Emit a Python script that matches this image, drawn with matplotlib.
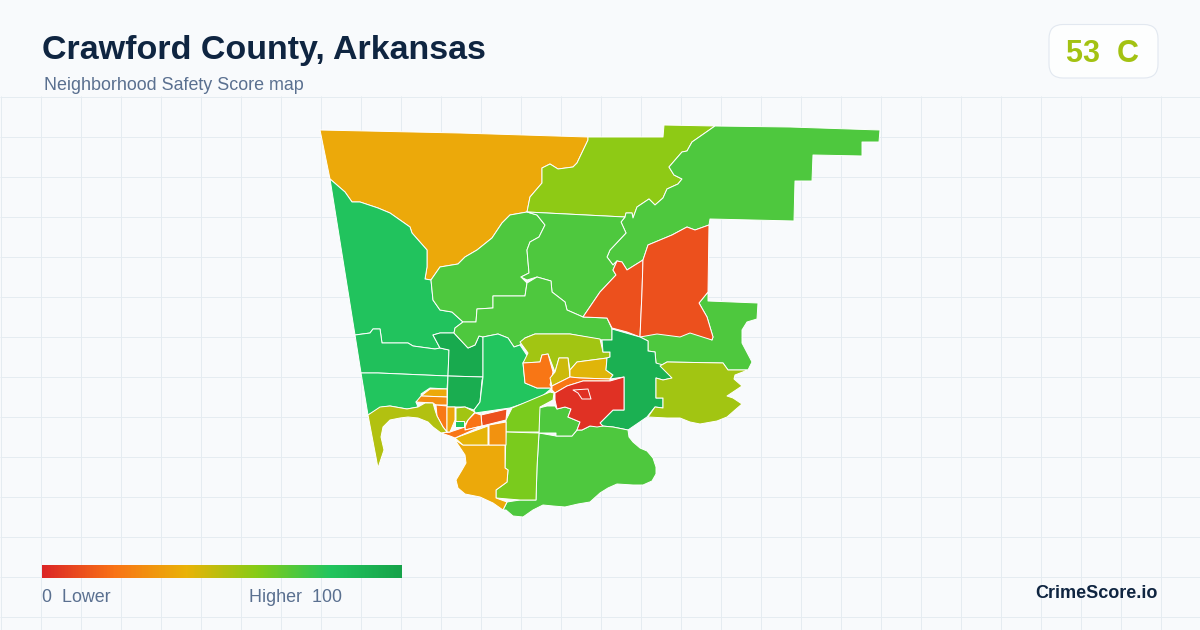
import numpy as np
import matplotlib.pyplot as plt
from matplotlib.colors import LinearSegmentedColormap
from matplotlib.patches import FancyBboxPatch, Polygon

title = 'Crawford County, Arkansas'
subtitle = 'Neighborhood Safety Score map'
county_score = '53  C'
brand = 'CrimeScore.io'

# colour scale of the legend bar
scale_stops = [0.0, 0.2, 0.4, 0.6, 0.8, 1.0]
scale_colors = ['#dc2626', '#f97316', '#eab308', '#84cc16', '#22c55e', '#16a34a']

# tract outlines in pixels (x, y)
north_orange = [(320, 130), (460, 133), (588, 137), (588, 140), (577, 163), (573, 167), (558, 169), (550, 164), (542, 168), (542, 183), (530, 197), (527, 212), (510, 215), (502, 223), (492, 238), (477, 250), (465, 257), (458, 264), (440, 267), (431, 280), (425, 279), (427, 267), (427, 250), (412, 233), (410, 227), (390, 213), (378, 208), (360, 202), (352, 202), (345, 192), (330, 179)]
north_lime = [(527, 212), (530, 197), (542, 183), (542, 168), (550, 164), (558, 169), (573, 167), (577, 163), (588, 140), (588, 137), (663, 137), (664, 125), (715, 126), (692, 142), (687, 151), (682, 152), (669, 167), (674, 175), (682, 179), (678, 184), (667, 189), (663, 198), (655, 205), (649, 199), (637, 207), (633, 218), (632, 213), (626, 213), (625, 217)]
northeast = [(715, 126), (790, 127), (880, 130), (879, 142), (862, 142), (862, 156), (813, 155), (812, 181), (795, 181), (794, 221), (710, 219), (709, 225), (695, 230), (687, 227), (672, 235), (648, 245), (643, 260), (627, 270), (622, 262), (617, 261), (613, 265), (607, 257), (610, 250), (626, 233), (621, 222), (625, 217), (626, 213), (632, 213), (633, 218), (637, 207), (649, 199), (655, 205), (663, 198), (667, 189), (678, 184), (682, 179), (674, 175), (669, 167), (682, 152), (687, 151), (692, 142)]
red_west = [(643, 260), (627, 270), (622, 262), (617, 261), (613, 270), (616, 275), (600, 292), (583, 317), (607, 318), (612, 328), (627, 332), (640, 337), (642, 292)]
red_east = [(648, 245), (672, 235), (687, 227), (695, 230), (709, 225), (708, 292), (699, 303), (707, 317), (713, 337), (712, 340), (690, 333), (680, 337), (657, 334), (640, 337), (642, 292), (643, 260)]
west_upper = [(330, 179), (345, 192), (352, 202), (360, 202), (378, 208), (390, 213), (410, 227), (412, 233), (427, 250), (427, 267), (425, 279), (431, 280), (433, 300), (440, 310), (452, 312), (463, 322), (455, 328), (454, 333), (440, 333), (433, 335), (440, 348), (435, 349), (413, 346), (408, 343), (382, 343), (380, 329), (373, 329), (370, 333), (355, 335)]
west_mid = [(355, 335), (370, 333), (373, 329), (380, 329), (382, 343), (408, 343), (413, 346), (435, 349), (440, 348), (449, 350), (448, 376), (378, 373), (361, 373)]
west_low = [(361, 373), (378, 373), (448, 376), (447, 389), (430, 388), (421, 394), (422, 398), (416, 402), (418, 407), (407, 409), (390, 406), (382, 407), (368, 415)]
dark_upper = [(433, 335), (440, 333), (454, 333), (468, 348), (475, 345), (479, 336), (483, 337), (483, 377), (448, 376), (449, 350), (440, 348)]
dark_lower = [(448, 376), (483, 377), (482, 380), (480, 402), (474, 410), (465, 407), (455, 407), (447, 407)]
mid_green = [(483, 337), (498, 334), (508, 338), (514, 347), (520, 345), (528, 357), (523, 363), (525, 383), (537, 388), (552, 388), (540, 398), (510, 408), (475, 413), (474, 410), (480, 402), (483, 377)]
olive_north = [(525, 338), (535, 334), (570, 334), (600, 339), (603, 352), (610, 352), (610, 357), (607, 358), (577, 362), (570, 370), (568, 358), (559, 358), (555, 372), (548, 354), (542, 355), (540, 362), (523, 363), (528, 353), (520, 342)]
orange_block = [(523, 363), (540, 362), (542, 355), (548, 354), (553, 372), (550, 385), (552, 388), (537, 388), (525, 383)]
yellow_a = [(559, 358), (568, 358), (570, 377), (552, 386), (550, 378), (555, 372)]
yellow_b = [(577, 362), (607, 358), (606, 370), (613, 375), (610, 379), (580, 378), (570, 377), (570, 370)]
orange_strip = [(552, 386), (570, 377), (580, 378), (610, 379), (610, 381), (583, 381), (567, 386), (555, 393), (552, 390)]
red_core = [(555, 393), (567, 386), (583, 381), (610, 381), (624, 377), (624, 410), (613, 410), (600, 423), (603, 426), (597, 427), (590, 426), (582, 430), (577, 430), (580, 422), (568, 417), (571, 409), (565, 407), (557, 409), (555, 400)]
red_hole = [(573, 390), (588, 389), (591, 399), (582, 399), (578, 393)]
east_dark = [(612, 329), (633, 335), (640, 337), (648, 341), (648, 351), (655, 352), (656, 363), (663, 365), (672, 378), (663, 380), (656, 378), (656, 398), (663, 398), (663, 408), (655, 407), (647, 417), (628, 430), (613, 427), (602, 426), (600, 423), (613, 410), (624, 410), (624, 377), (610, 379), (613, 375), (606, 370), (607, 358), (610, 357), (610, 352), (603, 352), (602, 340), (612, 340)]
east_green = [(648, 341), (640, 337), (657, 330), (690, 328), (712, 340), (713, 337), (707, 317), (699, 303), (708, 292), (708, 301), (758, 303), (757, 319), (747, 322), (742, 330), (742, 343), (752, 362), (748, 370), (728, 370), (723, 363), (667, 362), (660, 366), (656, 363), (655, 352), (648, 351)]
east_olive = [(660, 366), (667, 362), (723, 363), (728, 370), (748, 370), (735, 375), (734, 379), (742, 386), (733, 392), (727, 396), (733, 398), (742, 404), (735, 410), (727, 417), (717, 421), (700, 424), (690, 422), (680, 418), (667, 418), (648, 417), (655, 407), (663, 408), (663, 398), (656, 398), (656, 378), (663, 380), (672, 378)]
south_green = [(539, 433), (556, 436), (572, 436), (577, 430), (582, 430), (590, 426), (602, 426), (613, 427), (628, 430), (629, 437), (633, 442), (640, 448), (647, 451), (653, 458), (656, 467), (656, 474), (652, 481), (643, 485), (633, 485), (617, 484), (608, 488), (600, 493), (590, 502), (578, 504), (565, 507), (553, 506), (543, 505), (533, 510), (523, 517), (513, 516), (506, 510), (503, 510), (507, 502), (520, 500), (536, 500), (537, 467)]
south_inner = [(539, 408), (547, 406), (555, 406), (557, 409), (565, 407), (571, 409), (568, 417), (580, 422), (577, 430), (572, 436), (556, 436), (556, 433), (539, 433)]
lime_upper = [(512, 408), (550, 392), (554, 393), (553, 400), (540, 407), (539, 432), (506, 432), (506, 420)]
lime_lower = [(506, 432), (539, 433), (537, 467), (536, 500), (520, 500), (496, 498), (496, 490), (507, 482), (508, 470), (505, 468)]
south_orange = [(463, 445), (505, 445), (505, 468), (508, 470), (507, 482), (496, 490), (496, 498), (507, 502), (503, 510), (493, 503), (480, 497), (465, 494), (458, 488), (456, 480), (462, 470), (466, 463), (465, 455), (455, 440)]
town_yellow = [(455, 438), (488, 426), (488, 445), (463, 445)]
town_amber = [(489, 425), (506, 422), (506, 445), (489, 445)]
town_red = [(481, 415), (507, 409), (506, 420), (482, 426)]
town_orange = [(475, 413), (481, 415), (482, 426), (465, 430), (465, 427), (468, 420)]
town_long = [(441, 433), (450, 432), (465, 427), (465, 430), (482, 426), (455, 438), (450, 436)]
town_olive = [(456, 408), (465, 407), (475, 412), (468, 420), (464, 426), (456, 428)]
town_teal = [(455, 421), (464, 421), (464, 427), (455, 427)]
town_a = [(430, 389), (447, 389), (447, 397), (421, 396)]
town_b = [(421, 396), (447, 397), (447, 405), (436, 405), (433, 403), (416, 402)]
town_c = [(436, 405), (447, 406), (447, 432), (443, 427), (437, 416)]
town_d = [(447, 407), (455, 407), (455, 420), (450, 432), (447, 432)]
coast_olive = [(368, 415), (380, 407), (390, 406), (407, 409), (418, 407), (425, 403), (433, 403), (435, 410), (437, 416), (443, 427), (447, 432), (441, 433), (433, 427), (428, 422), (418, 418), (408, 417), (400, 418), (390, 420), (383, 427), (381, 437), (384, 450), (378, 468)]
west_green = [(431, 280), (440, 267), (458, 264), (465, 257), (477, 250), (492, 238), (502, 223), (510, 215), (527, 212), (537, 215), (545, 225), (539, 237), (530, 242), (527, 250), (529, 273), (521, 277), (527, 283), (525, 296), (493, 296), (493, 308), (477, 309), (476, 322), (463, 322), (452, 312), (440, 310), (433, 300)]
central_green = [(527, 212), (625, 217), (621, 222), (626, 233), (610, 250), (607, 257), (613, 265), (617, 261), (613, 270), (616, 275), (600, 292), (583, 317), (567, 310), (565, 302), (552, 292), (551, 281), (537, 277), (527, 280), (521, 277), (529, 273), (527, 250), (530, 242), (539, 237), (545, 225), (537, 215)]
lower_green = [(476, 322), (477, 309), (493, 308), (493, 296), (525, 296), (527, 283), (537, 277), (551, 281), (552, 292), (565, 302), (567, 310), (583, 317), (607, 318), (612, 329), (612, 340), (602, 340), (570, 334), (535, 334), (525, 338), (520, 345), (514, 347), (508, 338), (498, 334), (483, 337), (479, 336), (475, 345), (468, 348), (454, 333), (455, 328), (463, 322)]

# safety score of each tract, same order as tracts below
tracts = [north_orange, north_lime, northeast, west_upper, west_mid, west_low, dark_upper, dark_lower,
          west_green, central_green, lower_green, mid_green, east_green, red_west, red_east, olive_north, orange_block,
          yellow_a, yellow_b, orange_strip, east_dark, east_olive, south_green, south_inner,
          red_core, red_hole, lime_upper, lime_lower, south_orange, town_yellow, town_amber, town_red,
          town_orange, town_long, town_olive, town_teal, town_a, town_b, town_c, town_d, coast_olive]
scores = [37, 58, 71, 81, 83, 80, 96, 94,
          71, 71, 71, 80, 71, 11, 11, 54, 21,
          46, 42, 21, 92, 54, 71, 71,
          3, 3, 62, 62, 37, 41, 30, 11,
          20, 21, 54, 80, 37, 28, 22, 36, 51]

plt.rcParams['font.family'] = ['Liberation Sans', 'DejaVu Sans']
cmap = LinearSegmentedColormap.from_list('safety', list(zip(scale_stops, scale_colors)))

fig = plt.figure(figsize=(12, 6.3), dpi=100, facecolor='#f8fafc')
ax = fig.add_axes([0, 0, 1, 1])
ax.set_facecolor('#f8fafc')

# background grid starts under the header
ax.vlines(np.arange(0, 1200, 40) + 0.5, 96, 630, color='#e5ecf1', lw=0.72, zorder=1)
ax.hlines(np.arange(96, 630, 40) + 0.5, 0, 1200, color='#e5ecf1', lw=0.72, zorder=1)

for tract, score in zip(tracts, scores):
    ax.add_patch(Polygon(tract, closed=True, facecolor=cmap(score / 100), edgecolor='white',
                         lw=0.7, joinstyle='round', zorder=2))

ax.text(42, 50.5, title, fontsize=24.45, fontweight='bold', color='#0f2541', va='center', ha='left', zorder=5)
ax.text(44, 86, subtitle, fontsize=12.9, color='#5a7090', va='center', ha='left', zorder=5)

badge = FancyBboxPatch((1049, 24.5), 109, 53.5, boxstyle='round,pad=0,rounding_size=14',
                       facecolor='#fdfefe', edgecolor='#e2e8f0', lw=0.8, zorder=4)
ax.add_patch(badge)
ax.text(1103, 53.5, county_score, fontsize=22, fontweight='bold', color='#a3c212', va='center', ha='center', zorder=5)

bar = np.linspace(0, 1, 360).reshape(1, -1)
ax.imshow(bar, cmap=cmap, vmin=0, vmax=1, extent=(42, 402, 578, 565), aspect='auto', zorder=3)
ax.text(42, 598, '0  Lower', fontsize=12.9, color='#5a7090', va='center', ha='left', zorder=5)
ax.text(249, 598, 'Higher  100', fontsize=12.9, color='#5a7090', va='center', ha='left', zorder=5)
ax.text(1158, 594, brand, fontsize=13, fontweight='bold', color='#0f2541', va='center', ha='right', zorder=5)

ax.set_xlim(0, 1200)
ax.set_ylim(630, 0)
ax.axis('off')

fig.savefig('out.png', dpi=100, facecolor=fig.get_facecolor())
